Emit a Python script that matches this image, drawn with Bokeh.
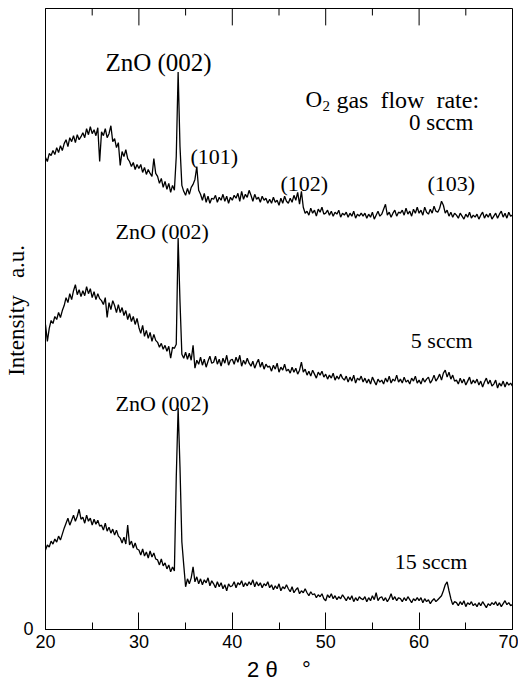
import numpy as np
from bokeh.plotting import figure
from bokeh.models import Range1d, FixedTicker, Label
from bokeh.embed import file_html
from bokeh.resources import INLINE

# scan grid (2-theta, degrees)
two_theta = np.round(np.arange(20.0, 70.0001, 0.2), 1)

# intensities (a.u., stacked traces as drawn)
i_0sccm = [
    474, 470, 478, 476, 481, 477, 484, 479, 486, 481,
    488, 492, 485, 494, 490, 496, 489, 497, 492, 495,
    499, 494, 503, 497, 505, 498, 502, 496, 504, 470,
    500, 496, 503, 494, 498, 506, 490, 493, 484, 489,
    466, 480, 475, 482, 473, 470, 465, 469, 462, 467,
    463, 467, 459, 464, 457, 462, 458, 455, 473, 458,
    455, 448, 453, 444, 450, 442, 448, 439, 446, 441,
    475, 560, 485, 446, 440, 436, 443, 437, 444, 447,
    452, 465, 441, 437, 431, 438, 429, 435, 428, 433,
    432, 436, 429, 434, 431, 437, 430, 435, 428, 434,
    431, 436, 433, 438, 430, 440, 432, 437, 434, 441,
    436, 430, 437, 432, 434, 429, 435, 431, 433, 428,
    432, 428, 434, 429, 431, 426, 433, 428, 435, 430,
    428, 433, 429, 436, 431, 439, 427, 440, 424, 418,
    420, 416, 423, 418, 421, 415, 422, 419, 424, 417,
    418, 421, 416, 420, 415, 419, 417, 421, 414, 418,
    416, 419, 414, 418, 415, 420, 413, 417, 415, 418,
    415, 418, 413, 417, 414, 419, 412, 416, 420, 415,
    417, 422, 427, 416, 419, 414, 418, 421, 415, 419,
    418, 421, 416, 423, 417, 420, 415, 422, 418, 424,
    418, 421, 416, 424, 419, 417, 422, 418, 425, 420,
    419, 423, 430, 426, 418, 421, 415, 419, 414, 418,
    416, 413, 418, 415, 412, 417, 414, 419, 413, 416,
    414, 417, 412, 416, 419, 413, 417, 414, 418, 412,
    415, 418, 413, 417, 420, 414, 418, 413, 419, 415,
    416,
]

i_5sccm = [
    306, 289, 302, 310, 307, 314, 311, 318, 313, 320,
    325, 333, 328, 337, 331, 340, 346, 336, 341, 334,
    340, 335, 344, 337, 342, 333, 339, 331, 337, 332,
    330, 326, 333, 313, 328, 321, 330, 325, 318, 326,
    318, 323, 315, 320, 311, 317, 309, 314, 306, 312,
    303, 297, 305, 294, 300, 292, 298, 289, 296, 290,
    288, 283, 287, 281, 285, 279, 284, 272, 283, 282,
    286, 393, 329, 276, 272, 278, 271, 277, 270, 285,
    262, 270, 266, 273, 265, 271, 263, 269, 274, 267,
    268, 274, 266, 271, 264, 272, 267, 275, 265, 270,
    271, 266, 273, 268, 275, 264, 270, 266, 272, 267,
    264, 269, 262, 267, 271, 263, 268, 261, 266, 263,
    264, 259, 265, 261, 267, 258, 263, 260, 266, 259,
    261, 257, 263, 258, 262, 256, 260, 268, 258, 261,
    255, 259, 254, 260, 256, 252, 258, 255, 259, 253,
    256, 251, 255, 252, 257, 250, 254, 251, 256, 252,
    250, 254, 248, 253, 249, 255, 247, 252, 250, 254,
    248, 252, 247, 251, 246, 253, 249, 245, 251, 248,
    250, 246, 252, 248, 254, 247, 251, 249, 255, 248,
    251, 247, 253, 248, 250, 246, 252, 249, 254, 247,
    250, 246, 252, 248, 251, 253, 247, 250, 255, 249,
    252, 256, 250, 257, 260, 253, 258, 251, 255, 249,
    250, 246, 252, 247, 251, 245, 249, 253, 246, 250,
    247, 251, 245, 249, 243, 248, 252, 246, 250, 244,
    246, 250, 242, 247, 244, 249, 243, 248, 245, 247,
    244,
]

i_15sccm = [
    79, 84, 82, 88, 85, 90, 87, 93, 89, 95,
    101, 106, 111, 104, 109, 114, 108, 113, 120, 110,
    112, 106, 114, 108, 111, 104, 110, 105, 109, 103,
    104, 99, 106, 98, 102, 96, 100, 94, 99, 93,
    91, 86, 92, 85, 104, 84, 88, 81, 86, 80,
    79, 74, 80, 73, 77, 71, 78, 72, 76, 70,
    69, 64, 70, 63, 66, 60, 64, 57, 62, 58,
    152, 222, 162, 87, 64, 42, 50, 45, 51, 62,
    47, 52, 45, 50, 44, 49, 46, 51, 43, 48,
    45, 41, 47, 42, 46, 40, 44, 38, 45, 42,
    43, 47, 41, 46, 44, 48, 42, 46, 43, 47,
    44, 49, 42, 47, 43, 46, 41, 45, 43, 47,
    41, 44, 39, 43, 40, 45, 38, 42, 40, 44,
    40, 37, 42, 36, 39, 41, 35, 38, 36, 40,
    36, 33, 37, 34, 35, 31, 34, 32, 35, 30,
    28, 34, 31, 35, 30, 33, 29, 32, 30, 34,
    31, 28, 32, 29, 33, 27, 31, 28, 32, 30,
    29, 32, 27, 31, 28, 33, 29, 36, 28, 31,
    32, 28, 31, 27, 30, 35, 29, 32, 28, 31,
    30, 27, 31, 28, 32, 29, 26, 30, 28, 31,
    28, 31, 26, 30, 27, 29, 25, 28, 30, 27,
    29, 31, 33, 38, 44, 47, 38, 30, 24, 27,
    26, 23, 27, 24, 28, 22, 26, 24, 27, 23,
    25, 22, 26, 23, 27, 24, 21, 25, 23, 26,
    24, 27, 23, 26, 22, 25, 28, 24, 26, 23,
    24,
]

major_ticks = [20, 30, 40, 50, 60, 70]
minor_ticks = [25, 35, 45, 55, 65]

SERIF = "Liberation Serif"
SANS = "Liberation Sans"
NB = "\u00a0"

Y_TOP = 624
p = figure(width=518, height=684,
           x_range=Range1d(20, 70), y_range=Range1d(-1, Y_TOP),
           output_backend="svg", toolbar_location=None,
           min_border_left=45, min_border_right=6,
           min_border_top=8, min_border_bottom=51)
p.grid.visible = False
p.outline_line_color = "black"
p.outline_line_width = 1
p.background_fill_color = "white"
p.border_fill_color = "white"

xa = p.xaxis[0]
xa.ticker = FixedTicker(ticks=major_ticks, minor_ticks=minor_ticks)
xa.major_tick_in = 17
xa.major_tick_out = 0
xa.minor_tick_in = 7
xa.minor_tick_out = 0
xa.axis_line_color = "black"
xa.major_tick_line_color = "black"
xa.minor_tick_line_color = "black"
xa.major_label_text_font = SANS
xa.major_label_text_font_size = "18px"
xa.major_label_text_color = "black"
xa.major_label_standoff = 5
xa.axis_label = "2 θ" + NB * 4 + "°"
xa.axis_label_text_font = SANS
xa.axis_label_text_font_size = "22px"
xa.axis_label_text_font_style = "normal"
xa.axis_label_text_color = "black"
xa.axis_label_standoff = 6

ya = p.yaxis[0]
ya.ticker = FixedTicker(ticks=[0])
ya.major_tick_in = 0
ya.major_tick_out = 0
ya.minor_tick_in = 0
ya.minor_tick_out = 0
ya.axis_line_color = "black"
ya.major_label_text_font = SANS
ya.major_label_text_font_size = "18px"
ya.major_label_text_color = "black"
ya.major_label_standoff = 12
ya.axis_label = NB * 3 + "Intensity" + NB * 3 + "a.u."
ya.axis_label_text_font = SERIF
ya.axis_label_text_font_size = "23px"
ya.axis_label_text_font_style = "normal"
ya.axis_label_text_color = "black"
ya.axis_label_standoff = -9

# inward ticks along the top edge (same tick positions as the bottom axis)
p.segment(x0=major_ticks, y0=[Y_TOP] * len(major_ticks),
          x1=major_ticks, y1=[Y_TOP - 17] * len(major_ticks),
          line_color="black", line_width=1)
p.segment(x0=minor_ticks, y0=[Y_TOP] * len(minor_ticks),
          x1=minor_ticks, y1=[Y_TOP - 7] * len(minor_ticks),
          line_color="black", line_width=1)

for series in (i_0sccm, i_5sccm, i_15sccm):
    p.line(two_theta, series, line_color="black", line_width=1.3)

def lab(x, y, text, size, font=SERIF, align="left", baseline="alphabetic"):
    p.add_layout(Label(x=x, y=y, text=text, text_font=font,
                       text_font_size=size, text_align=align,
                       text_baseline=baseline, text_color="black"))

lab(26.42, 570, "ZnO (002)", "25px")
lab(27.49, 400, "ZnO (002)", "22px")
lab(27.49, 226, "ZnO (002)", "22px")
lab(35.52, 475, "(101)", "22px")
lab(45.16, 448, "(102)", "22px")
lab(60.90, 448, "(103)", "22px")
lab(47.84, 532, "O", "23px")
lab(49.66, 526, "2", "15px")
lab(51.15, 532, "gas" + NB * 2 + "flow" + NB * 2 + "rate:", "24px")
lab(65.82, 509, "0 sccm", "23px", align="right")
lab(65.72, 290, "5 sccm", "22px", align="right")
lab(65.18, 67, "15 sccm", "22px", align="right")

open("out.html", "w").write(file_html(p, INLINE))
